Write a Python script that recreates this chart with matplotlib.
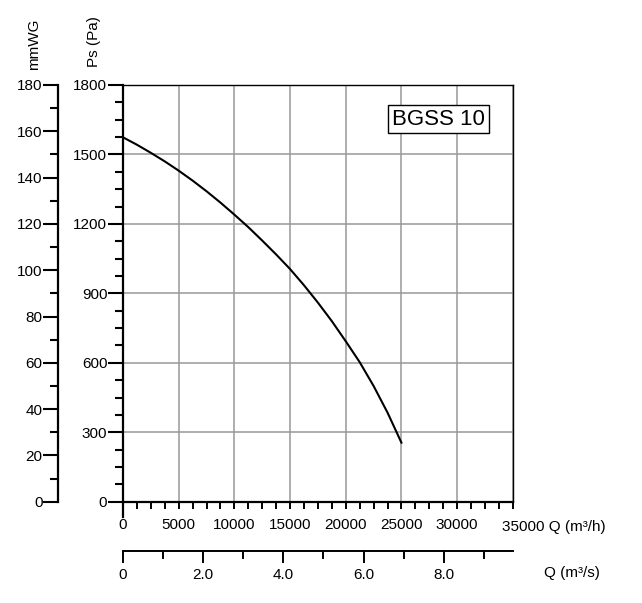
import matplotlib
matplotlib.use("Agg")
import matplotlib.pyplot as plt
from matplotlib.ticker import MultipleLocator, FixedLocator, FuncFormatter

plt.rcParams["font.family"] = ["Liberation Sans", "DejaVu Sans"]

# fan curve (Q in m3/h, Ps in Pa)
q_m3h = [0, 1250, 2500, 3750, 5000, 6250, 7500, 8750, 10000, 11250,
         12500, 13750, 15000, 16250, 17500, 18750, 20000, 21250, 22500,
         23750, 25000]
ps_pa = [1574, 1542, 1507, 1470, 1430, 1387, 1341, 1292, 1240, 1186,
         1128, 1068, 1005, 935, 860, 780, 693, 603, 500,
         385, 255]

model = "BGSS 10"
q_max = 35000
ps_max = 1800
mmwg_max = 180
q_s_major = [0, 2, 4, 6, 8]
q_s_minor = [1, 3, 5, 7, 9]

PX = 0.72  # points per pixel at 100 dpi
FS = 11

fig = plt.figure(figsize=(6.42, 6.03), dpi=100)
ax = fig.add_axes([123 / 642, 1 - 501.7 / 603, 389.8 / 642, 416.7 / 603])

ax.plot(q_m3h, ps_pa, color="black", lw=1.5, zorder=3)

ax.set_xlim(0, q_max)
ax.set_ylim(0, ps_max)

ax.xaxis.set_major_locator(MultipleLocator(5000))
ax.xaxis.set_minor_locator(MultipleLocator(1250))
ax.yaxis.set_major_locator(MultipleLocator(300))
ax.yaxis.set_minor_locator(MultipleLocator(75))
ax.xaxis.set_major_formatter(FuncFormatter(lambda v, p: "" if v >= q_max else f"{v:.0f}"))

ax.grid(True, which="major", color="#999999", lw=1.1, zorder=0)

ax.tick_params(axis="x", which="both", direction="out", length=7 * PX, width=1.4,
               labelsize=FS, pad=6.5)
ax.tick_params(axis="y", which="major", direction="out", length=15 * PX, width=1.5,
               labelsize=FS, pad=0.5)
ax.tick_params(axis="y", which="minor", direction="out", length=8 * PX, width=1.5)

for s in ["left", "bottom"]:
    ax.spines[s].set_linewidth(1.6)
for s in ["top", "right"]:
    ax.spines[s].set_linewidth(1.0)
ax.spines["left"].set_bounds(-65, ps_max)

ax.annotate("35000 Q (m³/h)", xy=(q_max, 0), xycoords="data",
            xytext=(-11, -18), textcoords="offset pixels",
            ha="left", va="top", fontsize=FS)

ax.text(0.809, 0.918, model, transform=ax.transAxes, ha="center", va="center",
        fontsize=16,
        bbox=dict(boxstyle="square,pad=0.17", fc="white", ec="black", lw=1.0),
        zorder=5)

# mmWG axis on the far left
ax2 = ax.twinx()
ax2.set_ylim(0, mmwg_max)
ax2.yaxis.set_ticks_position("left")
ax2.yaxis.set_label_position("left")
ax2.spines["left"].set_position(("axes", -0.166))
ax2.spines["left"].set_linewidth(1.6)
for s in ["top", "right", "bottom"]:
    ax2.spines[s].set_visible(False)
ax2.yaxis.set_major_locator(MultipleLocator(20))
ax2.yaxis.set_minor_locator(MultipleLocator(10))
ax2.tick_params(axis="y", which="major", direction="out", length=15 * PX, width=1.5,
                labelsize=FS, pad=0.5)
ax2.tick_params(axis="y", which="minor", direction="out", length=8 * PX, width=1.5)

# Q in m3/s below
sec = ax.secondary_xaxis(-0.118, functions=(lambda q: q / 3600, lambda s: s * 3600))
sec.xaxis.set_major_locator(FixedLocator(q_s_major))
sec.xaxis.set_minor_locator(FixedLocator(q_s_minor))
sec.xaxis.set_major_formatter(FuncFormatter(lambda v, p: "0" if v == 0 else f"{v:.1f}"))
sec.tick_params(axis="x", which="major", direction="out", length=12 * PX, width=1.4,
                labelsize=FS, pad=3.5)
sec.tick_params(axis="x", which="minor", direction="out", length=8 * PX, width=1.4)
sec.spines["bottom"].set_linewidth(1.4)

fig.text(572 / 642, 1 - 573 / 603, "Q (m³/s)", ha="center", va="center", fontsize=FS)
fig.text(34 / 642, 1 - 44 / 603, "mmWG", rotation=90, ha="center", va="center", fontsize=11)
fig.text(94 / 642, 1 - 42 / 603, "Ps (Pa)", rotation=90, ha="center", va="center", fontsize=11)

fig.savefig("out.png", dpi=100)
